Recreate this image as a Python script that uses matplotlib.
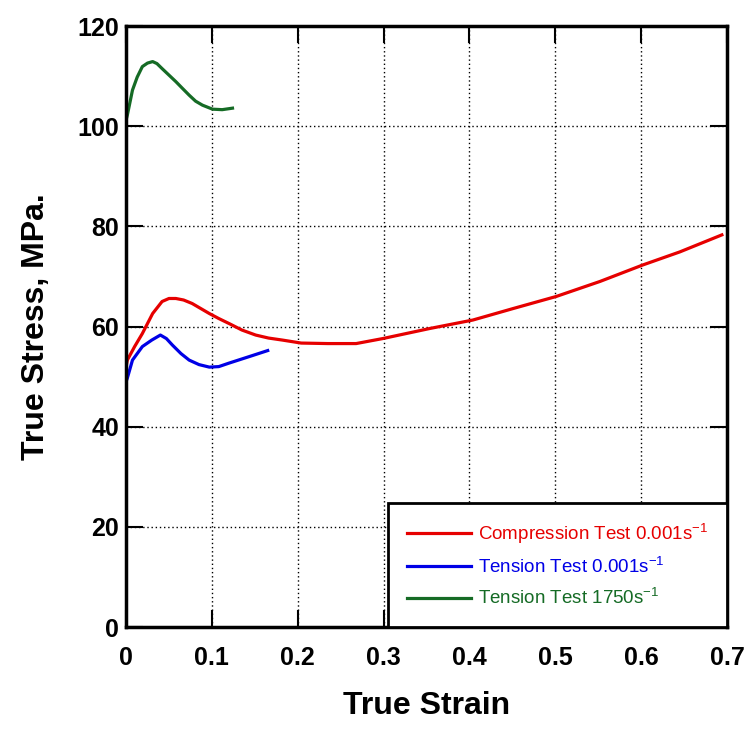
import matplotlib
matplotlib.use("Agg")
import matplotlib.pyplot as plt

plt.rcParams['font.family'] = ['Liberation Sans', 'DejaVu Sans']
plt.rcParams['mathtext.default'] = 'regular'

# Compression test 0.001 s^-1
comp_strain = [0.0, 0.0015, 0.01, 0.019, 0.031, 0.042, 0.05, 0.058, 0.067, 0.077, 0.087, 0.097, 0.108,
               0.12, 0.135, 0.151, 0.166, 0.182, 0.204,
               0.235, 0.268, 0.299, 0.3535, 0.404, 0.451, 0.501, 0.552, 0.602, 0.645, 0.694]
comp_stress = [52.0, 53.3, 56.0, 58.6, 62.6, 65.0, 65.6, 65.6, 65.3, 64.6, 63.6, 62.6, 61.6,
               60.6, 59.3, 58.3, 57.7, 57.3, 56.7,
               56.6, 56.6, 57.6, 59.6, 61.3, 63.6, 66.0, 69.0, 72.3, 74.9, 78.3]

# Tension test 0.001 s^-1
ten_strain = [0.0, 0.0015, 0.0075, 0.019, 0.030, 0.040, 0.047, 0.054, 0.064, 0.0735, 0.085, 0.097,
              0.108, 0.12, 0.1435, 0.165]
ten_stress = [49.0, 49.7, 53.3, 56.0, 57.3, 58.3, 57.6, 56.3, 54.6, 53.3, 52.4, 51.9,
              52.0, 52.7, 54.0, 55.2]

# Tension test 1750 s^-1
hs_strain = [0.0, 0.0015, 0.0075, 0.013, 0.019, 0.025, 0.031, 0.036, 0.042, 0.050, 0.058, 0.066,
             0.0735, 0.081, 0.089, 0.1007, 0.112, 0.124]
hs_stress = [101.2, 102.2, 107.2, 109.8, 111.9, 112.6, 112.9, 112.5, 111.5, 110.2, 108.9, 107.5,
             106.2, 105.0, 104.2, 103.4, 103.3, 103.6]

x_ticks = [0, 0.1, 0.2, 0.3, 0.4, 0.5, 0.6, 0.7]
x_labels = ['0', '0.1', '0.2', '0.3', '0.4', '0.5', '0.6', '0.7']
y_ticks = [0, 20, 40, 60, 80, 100, 120]

fig = plt.figure(figsize=(7.52, 7.31), dpi=100)
ax = fig.add_axes([0.1676, 0.1422, 0.7992, 0.8222])

red = '#e60000'
blue = '#0000e6'
green = '#156b25'

ax.plot(comp_strain, comp_stress, color=red, lw=2.3, label='Compression Test 0.001s$^{-1}$')
ax.plot(ten_strain, ten_stress, color=blue, lw=2.3, label='Tension Test 0.001s$^{-1}$')
ax.plot(hs_strain, hs_stress, color=green, lw=2.3, label='Tension Test 1750s$^{-1}$')

ax.set_xlim(0, 0.7)
ax.set_ylim(0, 120)
ax.set_xticks(x_ticks)
ax.set_xticklabels(x_labels)
ax.set_yticks(y_ticks)

ax.grid(True, color='black', linestyle=(0, (1, 2)), linewidth=1.0)
ax.set_axisbelow(True)
for s in ax.spines.values():
    s.set_linewidth(2.5)
    s.set_color('black')

ax.tick_params(direction='in', length=12, width=1.5, top=True, right=True, labelsize=18)
ax.tick_params(axis='x', pad=14)
ax.tick_params(axis='y', pad=5)
for lab in ax.get_xticklabels() + ax.get_yticklabels():
    lab.set_fontweight('bold')

ax.set_xlabel('True Strain', fontsize=23, fontweight='bold', labelpad=15)
ax.set_ylabel('True Stress, MPa.', fontsize=23, fontweight='bold', labelpad=19)

leg = ax.legend(loc='lower right', bbox_to_anchor=(1.0, 0.0), borderaxespad=0,
                fontsize=13.5, labelcolor='linecolor', handlelength=3.4,
                handletextpad=0.4, borderpad=1.0, labelspacing=0.6,
                fancybox=False, framealpha=1, edgecolor='black')
leg.get_frame().set_linewidth(2.0)

fig.savefig('out.png', dpi=100)
